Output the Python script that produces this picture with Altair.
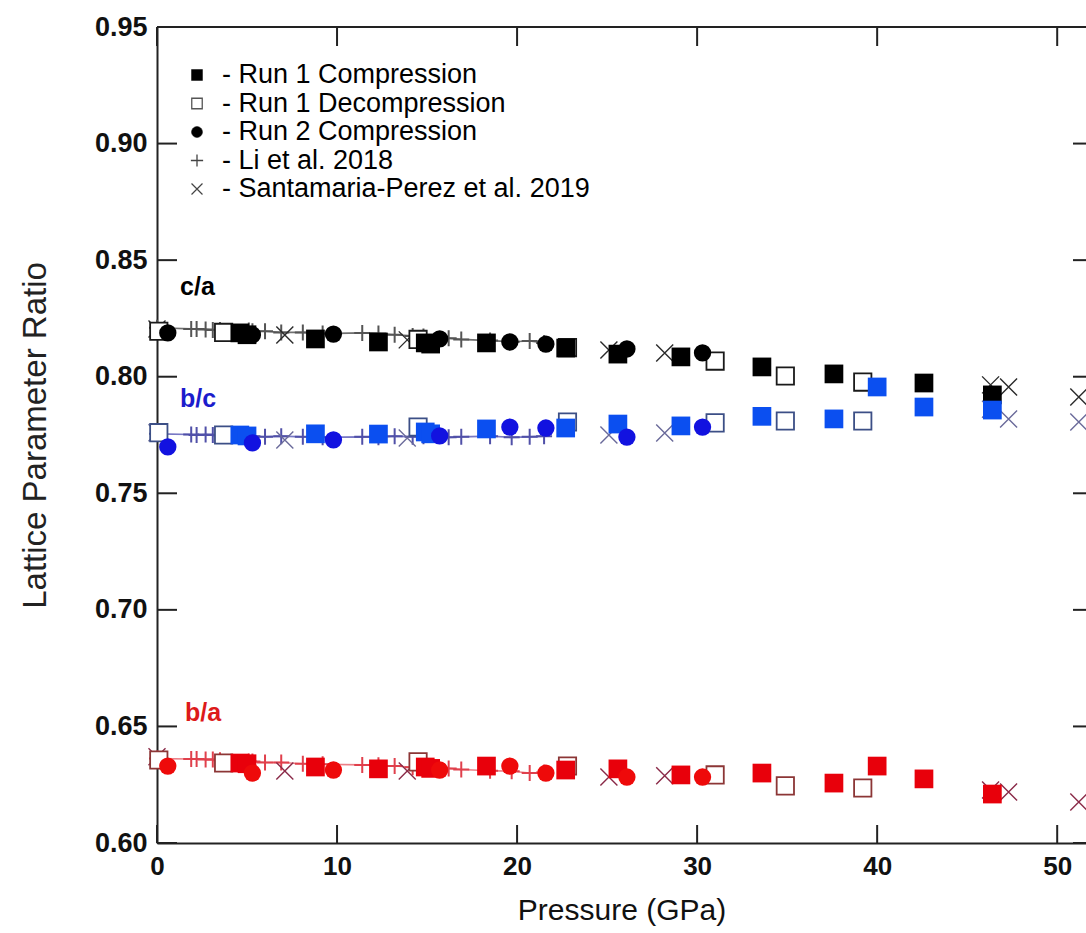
import altair as alt
import pandas as pd

# ---------------- data ----------------
# c/a
ca_r1c_p = [4.6, 5.0, 8.8, 12.3, 14.9, 15.2, 18.3, 22.7, 25.6, 29.1, 33.6, 37.6, 42.6, 46.4]
ca_r1c_v = [0.8188, 0.8180, 0.8162, 0.8149, 0.8145, 0.8140, 0.8145, 0.8123, 0.8097, 0.8085, 0.8042, 0.8012, 0.7973, 0.7922]
ca_r1d_p = [0.1, 3.7, 14.5, 22.8, 31.0, 34.9, 39.2]
ca_r1d_v = [0.8195, 0.8190, 0.8160, 0.8125, 0.8067, 0.8003, 0.7977]
ca_r2c_p = [0.6, 5.3, 9.8, 15.7, 19.6, 21.6, 26.1, 30.3]
ca_r2c_v = [0.8188, 0.8179, 0.8183, 0.8162, 0.8149, 0.8140, 0.8119, 0.8102]
li_p = [0.0, 1.9, 2.2, 2.7, 3.1, 3.5, 5.1, 5.3, 6.0, 6.9, 8.1, 9.2, 11.4, 12.3, 13.2, 14.2, 14.8, 16.2, 16.9, 18.5, 19.7, 20.7, 21.5]
ca_li_v = [0.8210, 0.8205, 0.8205, 0.8203, 0.8200, 0.8200, 0.8198, 0.8195, 0.8195, 0.8190, 0.8190, 0.8185, 0.8188,
           0.8185, 0.8180, 0.8175, 0.8172, 0.8165, 0.8160, 0.8155, 0.8150, 0.8153, 0.8145]
sp_p = [0.0, 7.1, 13.9, 25.1, 28.2, 46.3, 47.3, 51.2]
ca_sp_v = [0.8205, 0.8179, 0.8158, 0.8115, 0.8102, 0.7965, 0.7956, 0.7913]

# b/c
bc_r1c_p = [4.6, 5.0, 8.8, 12.3, 14.9, 15.2, 18.3, 22.7, 25.6, 29.1, 33.6, 37.6, 40.0, 42.6, 46.4]
bc_r1c_v = [0.7750, 0.7746, 0.7755, 0.7754, 0.7763, 0.7755, 0.7776, 0.7780, 0.7797, 0.7789, 0.7830, 0.7819, 0.7956, 0.7870, 0.7857]
bc_r1d_p = [0.1, 3.7, 14.5, 22.8, 31.0, 34.9, 39.2]
bc_r1d_v = [0.7760, 0.7750, 0.7784, 0.7806, 0.7802, 0.7810, 0.7810]
bc_r2c_p = [0.6, 5.3, 9.8, 15.7, 19.6, 21.6, 26.1, 30.3]
bc_r2c_v = [0.7699, 0.7716, 0.7729, 0.7746, 0.7784, 0.7780, 0.7741, 0.7784]
bc_li_v = [0.7755, 0.7752, 0.7750, 0.7752, 0.7750, 0.7748, 0.7745, 0.7745, 0.7742, 0.7745, 0.7742, 0.7740,
           0.7742, 0.7740, 0.7745, 0.7742, 0.7745, 0.7740, 0.7742, 0.7745, 0.7740, 0.7742, 0.7745]
bc_sp_v = [0.7760, 0.7729, 0.7737, 0.7750, 0.7759, 0.7860, 0.7819, 0.7806]

# b/a
ba_r1c_p = [4.6, 5.0, 8.8, 12.3, 14.9, 15.2, 18.3, 22.7, 25.6, 29.1, 33.6, 37.6, 40.0, 42.6, 46.4]
ba_r1c_v = [0.6343, 0.6340, 0.6326, 0.6318, 0.6326, 0.6320, 0.6330, 0.6313, 0.6318, 0.6292, 0.6300, 0.6257, 0.6330, 0.6275, 0.6210]
ba_r1d_p = [0.1, 3.7, 14.5, 22.8, 31.0, 34.9, 39.2]
ba_r1d_v = [0.6356, 0.6343, 0.6348, 0.6330, 0.6292, 0.6245, 0.6236]
ba_r2c_p = [0.6, 5.3, 9.8, 15.7, 19.6, 21.6, 26.1, 30.3]
ba_r2c_v = [0.6330, 0.6300, 0.6313, 0.6313, 0.6330, 0.6300, 0.6283, 0.6283]
ba_li_v = [0.6362, 0.6360, 0.6360, 0.6358, 0.6358, 0.6355, 0.6350, 0.6350, 0.6345, 0.6345, 0.6340, 0.6338,
           0.6335, 0.6333, 0.6330, 0.6325, 0.6325, 0.6320, 0.6315, 0.6310, 0.6308, 0.6300, 0.6302]
ba_sp_v = [0.6370, 0.6309, 0.6309, 0.6283, 0.6288, 0.6227, 0.6219, 0.6176]

ratios = ["c/a", "b/c", "b/a"]
series_names = ["r1c", "r1d", "r2c", "li", "sp"]
legend_labels = ["- Run 1 Compression", "- Run 1 Decompression", "- Run 2 Compression",
                 "- Li et al. 2018", "- Santamaria-Perez et al. 2019"]
x_ticks = [0, 10, 20, 30, 40, 50]
y_ticks = [0.60, 0.65, 0.70, 0.75, 0.80, 0.85, 0.90, 0.95]

table = {
    "c/a": {"r1c": (ca_r1c_p, ca_r1c_v), "r1d": (ca_r1d_p, ca_r1d_v), "r2c": (ca_r2c_p, ca_r2c_v),
            "li": (li_p, ca_li_v), "sp": (sp_p, ca_sp_v)},
    "b/c": {"r1c": (bc_r1c_p, bc_r1c_v), "r1d": (bc_r1d_p, bc_r1d_v), "r2c": (bc_r2c_p, bc_r2c_v),
            "li": (li_p, bc_li_v), "sp": (sp_p, bc_sp_v)},
    "b/a": {"r1c": (ba_r1c_p, ba_r1c_v), "r1d": (ba_r1d_p, ba_r1d_v), "r2c": (ba_r2c_p, ba_r2c_v),
            "li": (li_p, ba_li_v), "sp": (sp_p, ba_sp_v)},
}
rows = []
for r in ratios:
    for s in series_names:
        ps, vs = table[r][s]
        for p, v in zip(ps, vs):
            rows.append({"ratio": r, "series": s, "P": p, "v": v})
df = pd.DataFrame(rows)

# ---------------- styling ----------------
W, H = 929, 816
FONT = "Liberation Sans"
colors = {
    "c/a": dict(sq="#000000", open="#1a1a1a", circ="#000000", plus="#555555", line="#707070", cross="#2a2a2a", text="#000000"),
    "b/c": dict(sq="#0b4ff0", open="#3c4f86", circ="#1212e0", plus="#5050a8", line="#7878c4", cross="#6a6a9a", text="#1c1ccc"),
    "b/a": dict(sq="#e8000b", open="#8c3636", circ="#ee0a0a", plus="#e0404c", line="#ec8088", cross="#8a2a48", text="#dd1a1a"),
}
plus_path = "M -1 0 L 1 0 M 0 -1 L 0 1"
x_path = "M -1 -1 L 1 1 M -1 1 L 1 -1"

x_scale = alt.Scale(domain=[0, 51.6], nice=False, zero=False)
y_scale = alt.Scale(domain=[0.60, 0.95], nice=False, zero=False)
x_axis = alt.Axis(title="Pressure (GPa)", values=x_ticks, ticks=False, grid=False,
                  domainColor="#222222", domainWidth=2, labelFont=FONT, labelFontSize=26,
                  labelFontWeight="bold", labelColor="#111111", labelPadding=10, labelFlush=False,
                  titleFont=FONT, titleFontSize=30, titleFontWeight=500, titleColor="#111111",
                  titlePadding=16)
y_axis = alt.Axis(title="Lattice Parameter Ratio", values=y_ticks, format=".2f", ticks=False, grid=False,
                  domainColor="#222222", domainWidth=2, labelFont=FONT, labelFontSize=27,
                  labelFontWeight="bold", labelColor="#111111", labelPadding=10, labelFlush=False,
                  titleFont=FONT, titleFontSize=33, titleFontWeight="normal", titleColor="#222222",
                  titlePadding=42)

X = alt.X("P:Q", scale=x_scale, axis=x_axis)
Y = alt.Y("v:Q", scale=y_scale, axis=y_axis)

base = alt.Chart(df)


def sel(r, s):
    return base.transform_filter((alt.datum.ratio == r) & (alt.datum.series == s))


layers = []
for r in ratios:
    c = colors[r]
    layers.append(sel(r, "li").mark_line(color=c["line"], strokeWidth=1.6).encode(x=X, y=Y, order="P:Q"))
    layers.append(sel(r, "li").mark_point(shape=plus_path, size=256, color=c["plus"], strokeWidth=2,
                                          filled=False, opacity=1).encode(x=X, y=Y))
for r in ratios:
    c = colors[r]
    layers.append(sel(r, "sp").mark_point(shape=x_path, size=289, color=c["cross"], strokeWidth=1.4,
                                          filled=False, opacity=1).encode(x=X, y=Y))
for r in ratios:
    c = colors[r]
    layers.append(sel(r, "r1d").mark_point(shape="square", size=300, fill="white", stroke=c["open"],
                                           strokeWidth=1.8, filled=True, opacity=1).encode(x=X, y=Y))
for r in ratios:
    c = colors[r]
    layers.append(sel(r, "r1c").mark_point(shape="square", size=350, color=c["sq"], filled=True,
                                           opacity=1, strokeWidth=0).encode(x=X, y=Y))
for r in ratios:
    c = colors[r]
    layers.append(sel(r, "r2c").mark_circle(size=300, color=c["circ"], opacity=1).encode(x=X, y=Y))

# inward ticks and frame
xt = pd.DataFrame({"P": x_ticks})
yt = pd.DataFrame({"v": y_ticks})
TC = "#222222"
layers.append(alt.Chart(xt).mark_rule(color=TC, strokeWidth=2).encode(x=X, y=alt.value(H), y2=alt.value(H - 18)))
layers.append(alt.Chart(xt).mark_rule(color=TC, strokeWidth=2).encode(x=X, y=alt.value(0), y2=alt.value(19)))
layers.append(alt.Chart(yt).mark_rule(color=TC, strokeWidth=2).encode(y=Y, x=alt.value(0), x2=alt.value(20)))
layers.append(alt.Chart(yt).mark_rule(color=TC, strokeWidth=2).encode(y=Y, x=alt.value(W - 13), x2=alt.value(W)))
layers.append(alt.Chart(alt.Data(values=[{}])).mark_rule(color=TC, strokeWidth=2).encode(
    x=alt.value(0), x2=alt.value(W), y=alt.value(0)))

# manual legend
leg_y = [48, 76.5, 105, 133.5, 162]
leg_sym_x = 40
leg_txt_x = 65
leg_marks = [
    dict(shape="square", size=120, fill="#000000", stroke="#000000", strokeWidth=0.5),
    dict(shape="square", size=110, fill="white", stroke="#555555", strokeWidth=1.3),
    dict(shape="circle", size=120, fill="#000000", stroke="#000000", strokeWidth=0.5),
    dict(shape=plus_path, size=150, fill="none", stroke="#444444", strokeWidth=1.3),
    dict(shape=x_path, size=120, fill="none", stroke="#444444", strokeWidth=1.2),
]
one = alt.Data(values=[{}])
for i, lab in enumerate(legend_labels):
    m = leg_marks[i]
    layers.append(alt.Chart(one).mark_point(shape=m["shape"], size=m["size"], fill=m["fill"], stroke=m["stroke"],
                                            strokeWidth=m["strokeWidth"], opacity=1, filled=True).encode(
        x=alt.value(leg_sym_x), y=alt.value(leg_y[i])))
    layers.append(alt.Chart(one).mark_text(align="left", baseline="middle", font=FONT, fontSize=27,
                                           color="#000000").encode(
        x=alt.value(leg_txt_x), y=alt.value(leg_y[i]), text=alt.value(lab)))

# ratio labels
lab_df = pd.DataFrame({"P": [1.28, 1.28, 1.56], "v": [0.8385, 0.7904, 0.6558], "t": ratios})
for i, r in enumerate(ratios):
    layers.append(alt.Chart(lab_df).transform_filter(alt.datum.t == r).mark_text(
        align="left", baseline="middle", font=FONT, fontSize=25, fontWeight="bold",
        color=colors[r]["text"]).encode(x=X, y=Y, text="t:N"))

chart = alt.layer(*layers).properties(
    width=W, height=H,
    padding={"left": 157, "top": 27, "right": 0, "bottom": 90},
    autosize=alt.AutoSizeParams(type="none"),
).configure_view(stroke=None).configure(background="white")

chart.save("out.html", embed_options={"renderer": "svg", "actions": False})
